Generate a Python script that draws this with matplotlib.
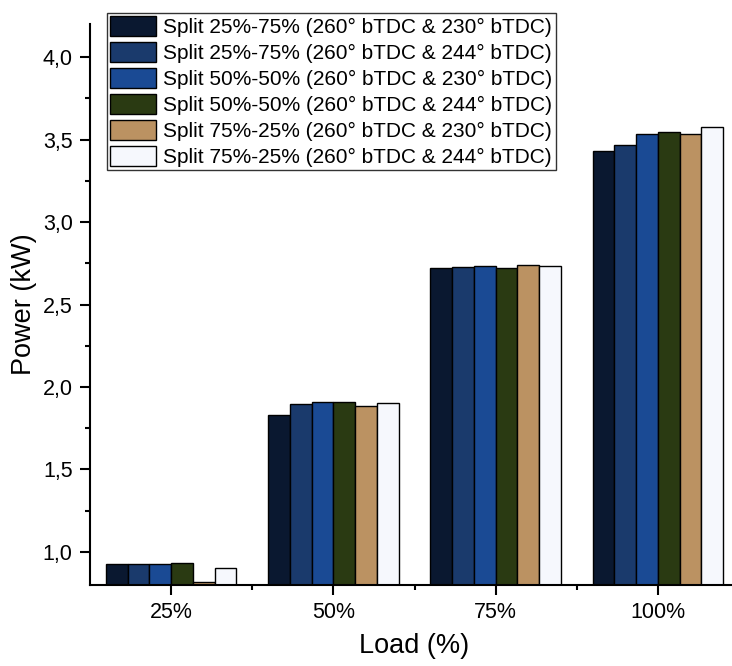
import matplotlib
matplotlib.use("Agg")
import matplotlib.pyplot as plt
import numpy as np
from matplotlib.ticker import MultipleLocator, FixedLocator

plt.rcParams['font.family'] = ['Liberation Sans', 'DejaVu Sans']

categories = ["25%", "50%", "75%", "100%"]
series_labels = [
    "Split 25%-75% (260° bTDC & 230° bTDC)",
    "Split 25%-75% (260° bTDC & 244° bTDC)",
    "Split 50%-50% (260° bTDC & 230° bTDC)",
    "Split 50%-50% (260° bTDC & 244° bTDC)",
    "Split 75%-25% (260° bTDC & 230° bTDC)",
    "Split 75%-25% (260° bTDC & 244° bTDC)",
]
s1 = [0.925, 1.828, 2.721, 3.431]
s2 = [0.923, 1.894, 2.729, 3.466]
s3 = [0.925, 1.908, 2.735, 3.536]
s4 = [0.930, 1.910, 2.721, 3.545]
s5 = [0.814, 1.886, 2.740, 3.536]
s6 = [0.900, 1.900, 2.732, 3.579]
series = [s1, s2, s3, s4, s5, s6]
colors = ["#0a1830", "#1a3a6c", "#1a4a94", "#2a3a12", "#bb9262", "#f6f8fd"]

fig = plt.figure(figsize=(7.32, 6.66), dpi=100)
ax = fig.add_axes([90/732, (666-584.7)/666, 649/732, (584.7-24.3)/666])

x = np.arange(len(categories))
w = 0.134
n = len(series)
for i, (vals, c, lab) in enumerate(zip(series, colors, series_labels)):
    ax.bar(x + (i - (n-1)/2) * w, vals, width=w, color=c, edgecolor="black",
           linewidth=1.0, label=lab)

ax.set_xlim(-0.5, 3.5)
ax.set_ylim(0.8, 4.2)
ax.set_xticks(x)
ax.set_xticklabels(categories)
ax.xaxis.set_minor_locator(FixedLocator(x[:-1] + 0.5))
ax.yaxis.set_major_locator(FixedLocator([1.0, 1.5, 2.0, 2.5, 3.0, 3.5, 4.0]))
ax.yaxis.set_minor_locator(MultipleLocator(0.25))
ax.set_yticklabels(["1,0", "1,5", "2,0", "2,5", "3,0", "3,5", "4,0"])

for s in ["top", "right"]:
    ax.spines[s].set_visible(False)
for s in ["left", "bottom"]:
    ax.spines[s].set_linewidth(1.5)

ax.tick_params(axis="both", which="major", direction="out", length=7, width=1.5,
               labelsize=15.5, pad=5.5)
ax.tick_params(axis="both", which="minor", direction="out", length=3.5, width=1.5)

ax.set_xlabel("Load (%)", fontsize=19.5, labelpad=7)
ax.set_ylabel("Power (kW)", fontsize=19.5, labelpad=4)

leg = ax.legend(loc="upper left", bbox_to_anchor=(107/732, 1 - 12.7/666),
                bbox_transform=fig.transFigure, fontsize=15, frameon=True,
                fancybox=False, handlelength=2.2, handleheight=1.1,
                labelspacing=0.24, handletextpad=0.35, borderpad=0.15,
                borderaxespad=0)
leg.get_frame().set_edgecolor("black")
leg.get_frame().set_linewidth(1.0)

fig.savefig("out.png", dpi=100)
